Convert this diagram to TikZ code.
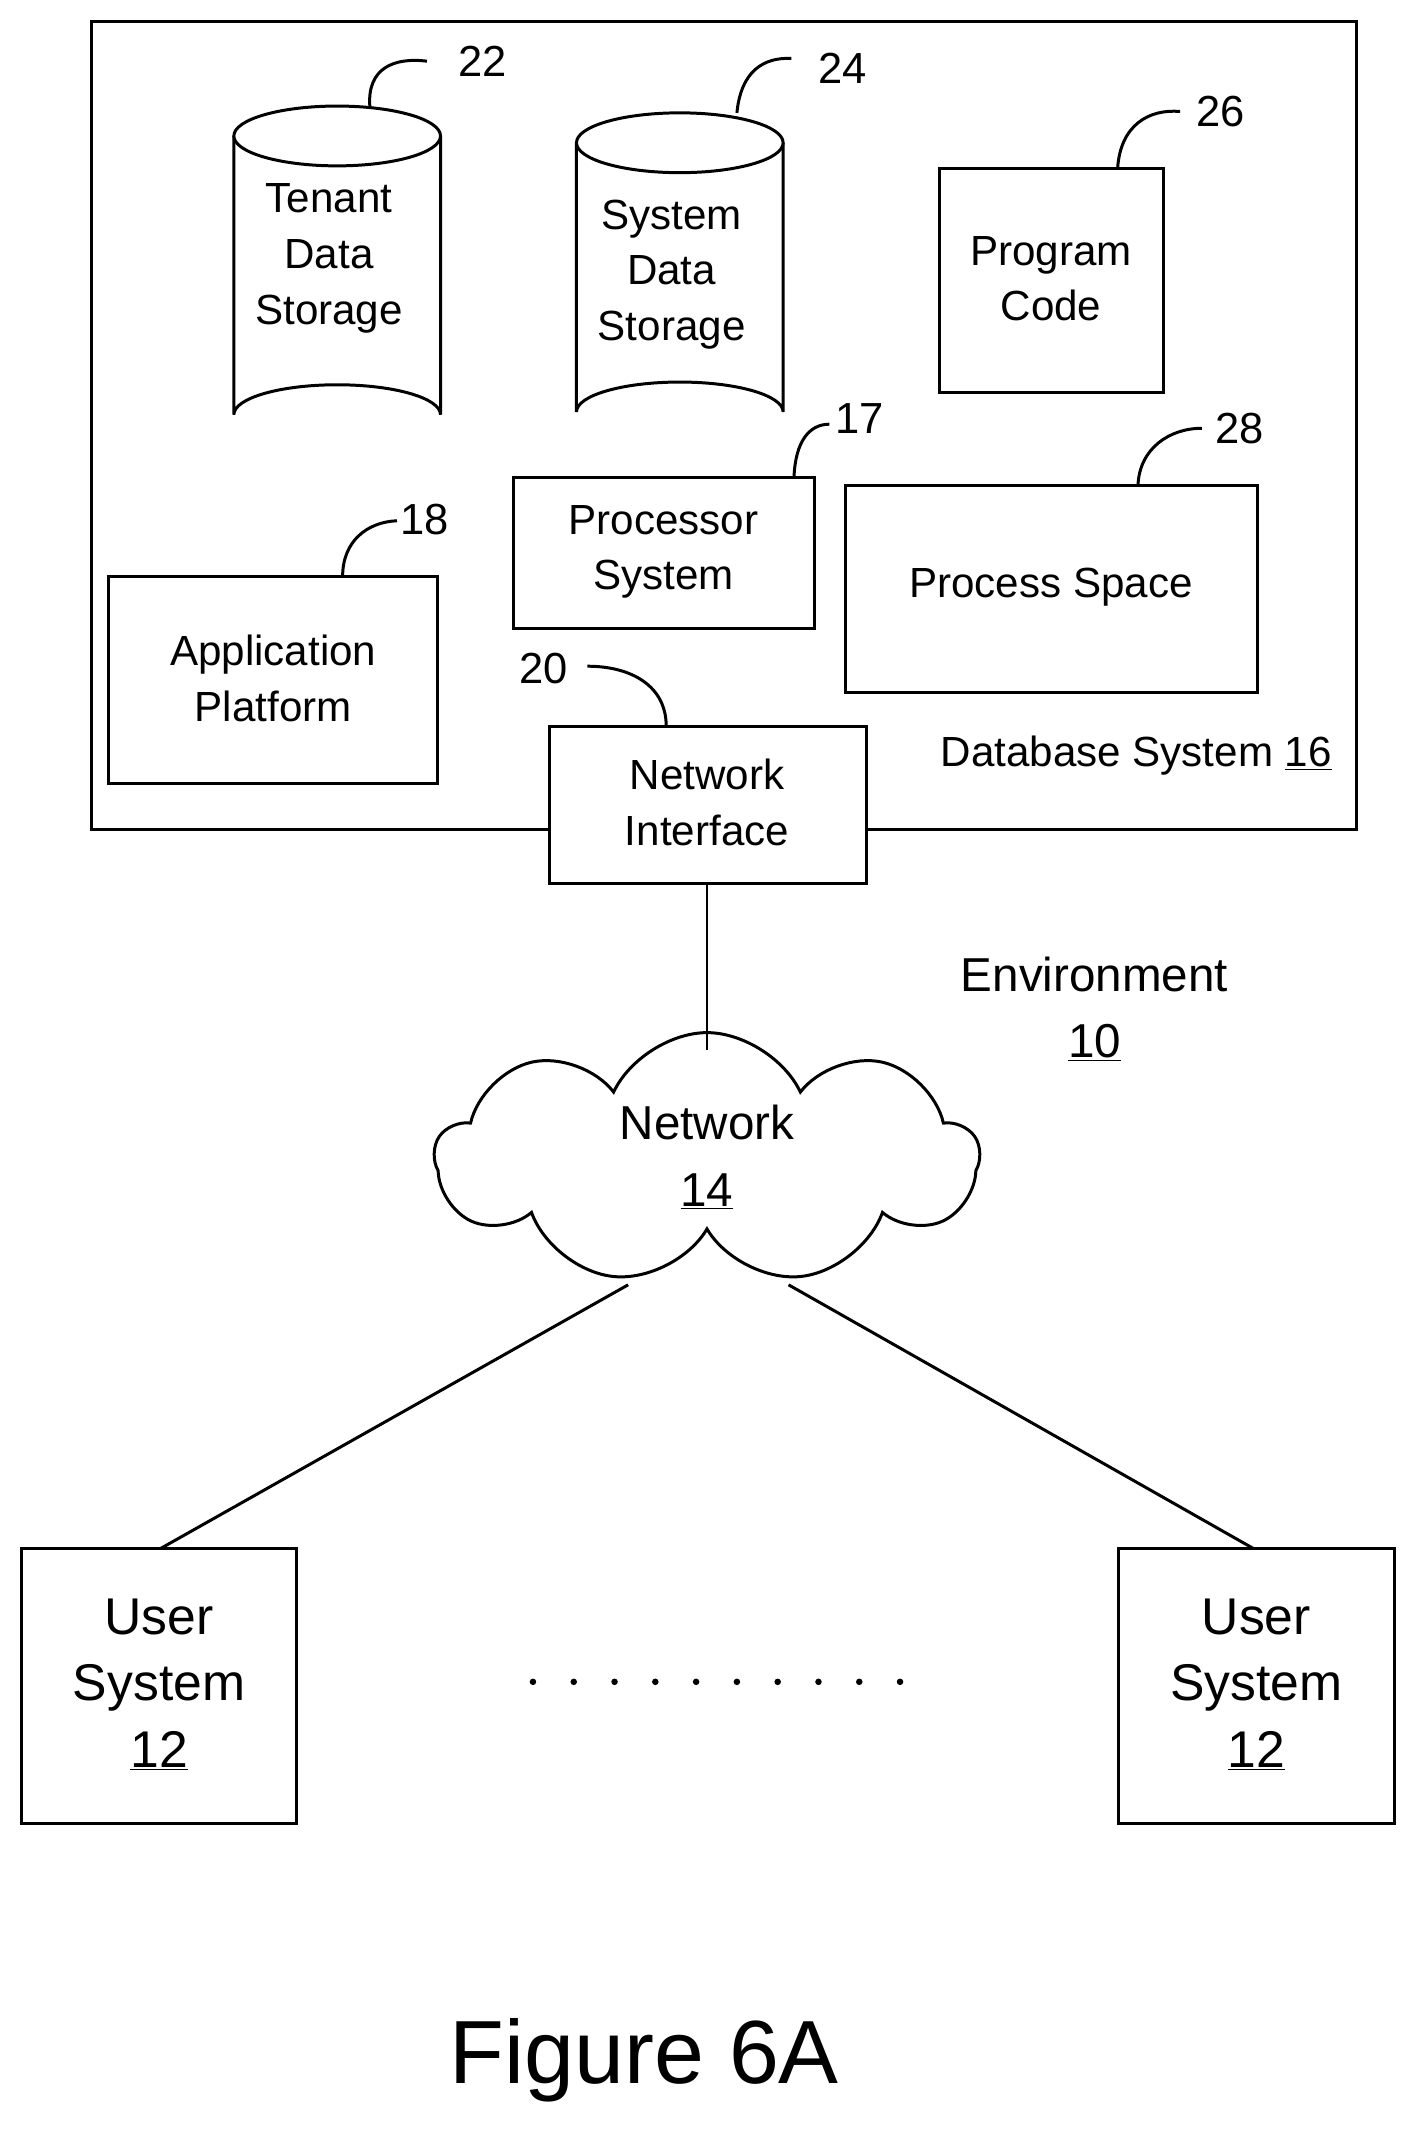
\documentclass[tikz,border=0pt]{standalone}
\usepackage{fontspec}
\setmainfont{Liberation Sans}
\usetikzlibrary{shapes.symbols}
\begin{document}
\begin{tikzpicture}[x=1pt,y=-1pt,line width=2.2pt,
  box/.style={draw,fill=white,inner sep=0pt},
  txt/.style={font=\fontsize{31}{41}\selectfont,align=center},
  num/.style={font=\fontsize{32}{36}\selectfont},
  big/.style={font=\fontsize{38}{49}\selectfont,align=center},
  lead/.style={line width=2.2pt}]
\useasboundingbox (0,0) rectangle (1046,1574);
\draw (67,16) rectangle (998,610);
\draw[fill=white] (172,100) -- (172,305) arc[start angle=180,end angle=360,x radius=76,y radius=22] -- (324,100);
\draw[fill=white] (248,100) ellipse[x radius=76,y radius=22];
\node[txt] (tds) at (242,190) {Tenant\\Data\\Storage};
\draw[fill=white] (424,105) -- (424,303) arc[start angle=180,end angle=360,x radius=76,y radius=22] -- (576,105);
\draw[fill=white] (500,105) ellipse[x radius=76,y radius=22];
\node[txt] (sds) at (494,202) {System\\Data\\Storage};
\node[num] (n22) at (355,45) {22};
\node[num] (n24) at (620,50) {24};
\draw[lead] (272,78) .. controls (270,50) and (290,42) .. (314,45);
\draw[lead] (542,83) .. controls (545,52) and (562,42) .. (582,43);
\draw (691,124) rectangle (856,289);
\node[txt] (pc) at (773,205) {Program\\Code};
\node[num] (n26) at (898,82) {26};
\draw[lead] (822,124) .. controls (824,92) and (845,80) .. (868,82);
\draw (378,351) rectangle (599,462);
\node[txt] (ps) at (488,406) {Processor\\System};
\node[num] (n17) at (632,308) {17};
\draw[lead] (584,351) .. controls (585,325) and (595,312) .. (610,312);
\draw (622,357) rectangle (925,509);
\node[txt] (psp) at (773,432) {Process Space};
\node[num] (n28) at (912,315) {28};
\draw[lead] (837,357) .. controls (838,330) and (860,315) .. (884,315);
\draw (80,424) rectangle (322,576);
\node[txt] (ap) at (201,499) {Application\\Platform};
\node[num] (n18) at (312,382) {18};
\draw[lead] (252,424) .. controls (252,398) and (270,384) .. (292,383);
\draw[fill=white] (404,534) rectangle (637,650);
\node[txt] (ni) at (520,590) {Network\\Interface};
\coordinate (nib) at (520,650);
\node[num] (n20) at (400,492) {20};
\draw[lead] (432,490) .. controls (465,490) and (490,505) .. (490,534);
\node[txt,anchor=east] (dbs) at (984,556) {Database System \underline{16}};
\node[cloud,draw,cloud puffs=9,cloud puff arc=130,aspect=2.3,minimum width=400,minimum height=185,inner sep=0pt,shape border rotate=90] (cl) at (520,852) {};
\draw (nib) -- (520,772);
\node[big,font=\fontsize{35}{49}\selectfont] (net) at (520,851) {Network\\\underline{14}};
\node[big,font=\fontsize{35}{49}\selectfont] (env) at (805,742) {Environment\\\underline{10}};
\draw (16,1139) rectangle (218,1341);
\node[big] (u1) at (117,1239) {User\\System\\\underline{12}};
\draw (823,1139) rectangle (1026,1341);
\node[big] (u2) at (924,1239) {User\\System\\\underline{12}};
\draw (462,945) -- (118,1139);
\draw (580,945) -- (922,1139);
\foreach \i in {0,...,9} \fill (392+30*\i,1237) circle (2.4);
\node[font=\fontsize{66}{70}\selectfont] (fig) at (474,1515) {Figure 6A};
\end{tikzpicture}
\end{document}
